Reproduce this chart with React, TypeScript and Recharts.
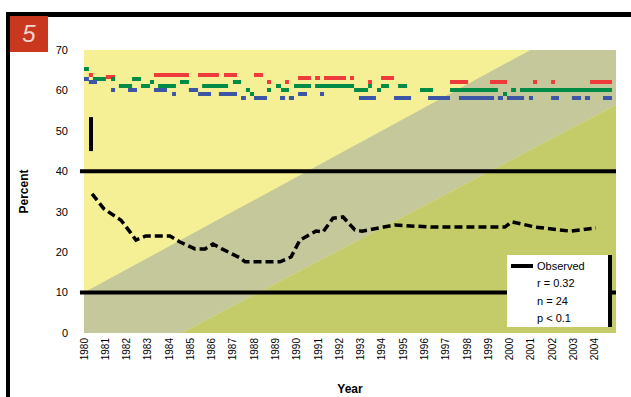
import React from 'react';
import {
  ComposedChart,
  Area,
  Line,
  XAxis,
  YAxis,
  CartesianGrid,
  ReferenceLine,
} from 'recharts';

// x = year, y = percent
const X_TICKS = [
  1980, 1981, 1982, 1983, 1984, 1985, 1986, 1987, 1988, 1989, 1990, 1991, 1992,
  1993, 1994, 1995, 1996, 1997, 1998, 1999, 2000, 2001, 2002, 2003, 2004,
];
const Y_TICKS = [0, 10, 20, 30, 40, 50, 60, 70];

// diagonal background bands (edge values at both ends of the axis)
const BAND_YEARS = [1980, 2005];
const BAND_LOWER = [-12.7, 56.4];
const BAND_UPPER = [10, 81.5];

// broken series: [from, to, value]
const RED_SEGMENTS: [number, number, number][] = [
  [1980.23, 1980.42, 63.8],
  [1981.03, 1981.46, 63.3],
  [1983.29, 1984.93, 63.8],
  [1985.36, 1986.34, 63.8],
  [1986.58, 1987.19, 63.8],
  [1987.99, 1988.41, 63.8],
  [1988.6, 1988.79, 62.1],
  [1989.45, 1989.63, 62.1],
  [1990.06, 1990.67, 63.1],
  [1990.86, 1991.09, 63.1],
  [1991.28, 1992.31, 63.1],
  [1992.5, 1992.69, 63.1],
  [1993.35, 1993.53, 62.1],
  [1993.96, 1994.57, 63.1],
  [1997.2, 1998.05, 62.1],
  [1999.08, 1999.88, 62.1],
  [2001.1, 2001.29, 62.1],
  [2001.95, 2002.13, 62.1],
  [2003.78, 2004.81, 62.1],
];

const GREEN_SEGMENTS: [number, number, number][] = [
  [1980.0, 1980.23, 65.3],
  [1980.42, 1981.03, 62.8],
  [1981.27, 1981.46, 62.8],
  [1981.64, 1982.26, 61.1],
  [1982.26, 1982.68, 62.8],
  [1982.68, 1983.1, 61.1],
  [1983.1, 1983.29, 62.1],
  [1983.48, 1984.32, 61.1],
  [1984.51, 1984.93, 62.1],
  [1985.55, 1986.77, 61.1],
  [1987.0, 1987.38, 62.1],
  [1987.61, 1987.8, 60.1],
  [1987.8, 1987.99, 59.1],
  [1988.6, 1988.79, 60.1],
  [1989.02, 1989.26, 61.1],
  [1989.26, 1989.63, 60.1],
  [1989.87, 1990.67, 61.1],
  [1990.86, 1992.69, 61.1],
  [1992.69, 1993.35, 60.1],
  [1993.35, 1993.53, 61.1],
  [1993.77, 1993.96, 60.1],
  [1993.96, 1994.33, 61.1],
  [1994.76, 1995.18, 61.1],
  [1995.79, 1996.4, 60.1],
  [1997.2, 1999.45, 60.1],
  [1999.69, 1999.88, 59.1],
  [2000.07, 2000.3, 60.1],
  [2000.49, 2004.81, 60.1],
];

const BLUE_SEGMENTS: [number, number, number][] = [
  [1980.0, 1980.23, 62.8],
  [1980.23, 1980.61, 62.1],
  [1981.27, 1981.46, 60.1],
  [1982.07, 1982.49, 60.1],
  [1983.29, 1983.9, 60.1],
  [1984.14, 1984.32, 59.1],
  [1984.93, 1985.36, 60.1],
  [1985.36, 1985.97, 59.1],
  [1986.34, 1987.19, 59.1],
  [1987.38, 1987.61, 58.1],
  [1987.99, 1988.6, 58.1],
  [1989.21, 1989.45, 58.1],
  [1989.63, 1989.87, 58.1],
  [1990.06, 1990.48, 59.1],
  [1991.09, 1991.28, 59.1],
  [1992.92, 1993.72, 58.1],
  [1994.57, 1995.37, 58.1],
  [1996.17, 1997.2, 58.1],
  [1997.62, 1999.27, 58.1],
  [1999.45, 1999.69, 58.1],
  [1999.88, 2000.68, 58.1],
  [2000.91, 2001.1, 58.1],
  [2001.95, 2002.32, 58.1],
  [2002.93, 2003.36, 58.1],
  [2003.54, 2003.78, 58.1],
  [2004.39, 2004.81, 58.1],
];

// black series
const BLACK_YEARS = [
  1980.38, 1980.94, 1981.74, 1982.16, 1982.44, 1982.91, 1984.04, 1984.51,
  1985.22, 1985.69, 1986.06, 1986.48, 1987.33, 1987.57, 1989.21, 1989.73,
  1990.15, 1990.9, 1991.23, 1991.7, 1992.17, 1992.73, 1993.06, 1994.6,
  1996.35, 1999.78, 2000.1, 2001.2, 2002.84, 2004.06,
];
const BLACK_VALUES = [
  34.4, 30.7, 27.9, 25.0, 23.0, 24.0, 24.0, 22.5, 20.8, 20.8, 22.0, 20.8, 18.6,
  17.6, 17.6, 18.8, 23.0, 25.2, 25.0, 28.4, 28.7, 25.5, 25.2, 26.7, 26.2, 26.2,
  27.5, 26.2, 25.2, 26.0,
];

const REF_LEVELS = [40, 10];
const MARKER_RANGE = [45, 53.4];
const MARKER_YEAR = 1980.33;

const LEGEND_ROWS = ['Observed', 'r = 0.32', 'n = 24', 'p < 0.1'];

const C = {
  yellow: '#f5f096',
  gray: '#c5c89b',
  olive: '#c3cc69',
  red: '#ee3a3a',
  green: '#008c46',
  blue: '#3c55a5',
  badge: '#c8371e',
};

const bandRows = BAND_YEARS.map((year, i) => ({
  year,
  lower: BAND_LOWER[i],
  upper: BAND_UPPER[i],
}));

const toPoints = (segs: [number, number, number][]) =>
  segs.flatMap(([a, b, v]) => [
    { year: a, v },
    { year: b, v },
    { year: b, v: null },
  ]);

const blackRows = BLACK_YEARS.map((year, i) => ({ year, v: BLACK_VALUES[i] }));

const YearTick = ({ x, y, payload }: any) => (
  <text
    x={x}
    y={y}
    transform={`rotate(-90 ${x} ${y})`}
    textAnchor="end"
    dominantBaseline="central"
    fontSize={10}
    fill="#000"
  >
    {payload.value}
  </text>
);

export default function App() {
  return (
    <div
      style={{
        position: 'absolute',
        left: 0,
        top: 0,
        width: 631,
        height: 397,
        background: '#fff',
        overflow: 'hidden',
        fontFamily: '"Liberation Sans", Arial, sans-serif',
      }}
    >
      <ComposedChart
        width={631}
        height={397}
        data={bandRows}
        margin={{ top: 50, right: 15, left: 0, bottom: 0 }}
        style={{ position: 'absolute', left: 0, top: 0 }}
      >
        <CartesianGrid horizontal={false} vertical={false} fill={C.yellow} />
        <XAxis
          dataKey="year"
          type="number"
          domain={[1980, 2005]}
          allowDataOverflow
          ticks={X_TICKS}
          interval={0}
          height={64}
          axisLine={false}
          tickLine={false}
          tickSize={0}
          tickMargin={5}
          tick={<YearTick />}
          label={{
            value: 'Year',
            position: 'insideBottom',
            offset: 4,
            style: { fontSize: 12, fontWeight: 'bold', fill: '#000' },
          }}
        />
        <YAxis
          type="number"
          domain={[0, 70]}
          allowDataOverflow
          ticks={Y_TICKS}
          width={84}
          axisLine={false}
          tickLine={false}
          tickSize={0}
          tickMargin={16}
          tick={{ fontSize: 11, fill: '#000' }}
          label={{
            value: 'Percent',
            angle: -90,
            position: 'insideLeft',
            offset: 24,
            style: { textAnchor: 'middle', fontSize: 12, fontWeight: 'bold', fill: '#000' },
          }}
        />
        <Area
          dataKey={(d: any) => [d.lower, d.upper]}
          type="linear"
          stroke="none"
          fill={C.gray}
          fillOpacity={1}
          isAnimationActive={false}
          activeDot={false}
        />
        <Area
          dataKey="lower"
          type="linear"
          stroke="none"
          fill={C.olive}
          fillOpacity={1}
          isAnimationActive={false}
          activeDot={false}
        />
        {REF_LEVELS.map((lv) => (
          <ReferenceLine
            key={lv}
            segment={[
              { x: 1979.81, y: lv },
              { x: 2005, y: lv },
            ]}
            ifOverflow="visible"
            stroke="#000"
            strokeWidth={4}
          />
        ))}
        <ReferenceLine
          segment={[
            { x: MARKER_YEAR, y: MARKER_RANGE[0] },
            { x: MARKER_YEAR, y: MARKER_RANGE[1] },
          ]}
          stroke="#000"
          strokeWidth={4}
        />
        <Line
          data={toPoints(RED_SEGMENTS)}
          dataKey="v"
          type="linear"
          stroke={C.red}
          strokeWidth={4}
          dot={false}
          activeDot={false}
          isAnimationActive={false}
        />
        <Line
          data={toPoints(GREEN_SEGMENTS)}
          dataKey="v"
          type="linear"
          stroke={C.green}
          strokeWidth={4}
          dot={false}
          activeDot={false}
          isAnimationActive={false}
        />
        <Line
          data={toPoints(BLUE_SEGMENTS)}
          dataKey="v"
          type="linear"
          stroke={C.blue}
          strokeWidth={4}
          dot={false}
          activeDot={false}
          isAnimationActive={false}
        />
        <Line
          data={blackRows}
          dataKey="v"
          type="linear"
          stroke="#000"
          strokeWidth={3.5}
          strokeDasharray="8 4"
          dot={false}
          activeDot={false}
          isAnimationActive={false}
        />
      </ComposedChart>

      {/* legend box */}
      <div
        style={{
          position: 'absolute',
          left: 507,
          top: 255,
          width: 101,
          height: 70,
          background: '#fff',
          borderRight: '4px solid #000',
          paddingTop: 2,
          boxSizing: 'content-box',
          fontSize: 11,
          color: '#000',
        }}
      >
        {LEGEND_ROWS.map((t, i) => (
          <div
            key={t}
            style={{ display: 'flex', alignItems: 'center', height: 17.5, paddingLeft: 4 }}
          >
            <span
              style={{
                width: 22,
                height: 4,
                background: i === 0 ? '#000' : 'transparent',
                marginRight: 4,
              }}
            />
            {t}
          </div>
        ))}
      </div>

      {/* frame + badge */}
      <div style={{ position: 'absolute', left: 6, top: 12, width: 625, height: 5, background: '#000' }} />
      <div style={{ position: 'absolute', left: 6, top: 12, width: 4, height: 385, background: '#000' }} />
      <div
        style={{
          position: 'absolute',
          left: 10,
          top: 16,
          width: 38,
          height: 36,
          background: C.badge,
          color: '#f6d5cc',
          fontSize: 24,
          fontStyle: 'italic',
          lineHeight: '36px',
          textAlign: 'center',
        }}
      >
        5
      </div>
    </div>
  );
}
